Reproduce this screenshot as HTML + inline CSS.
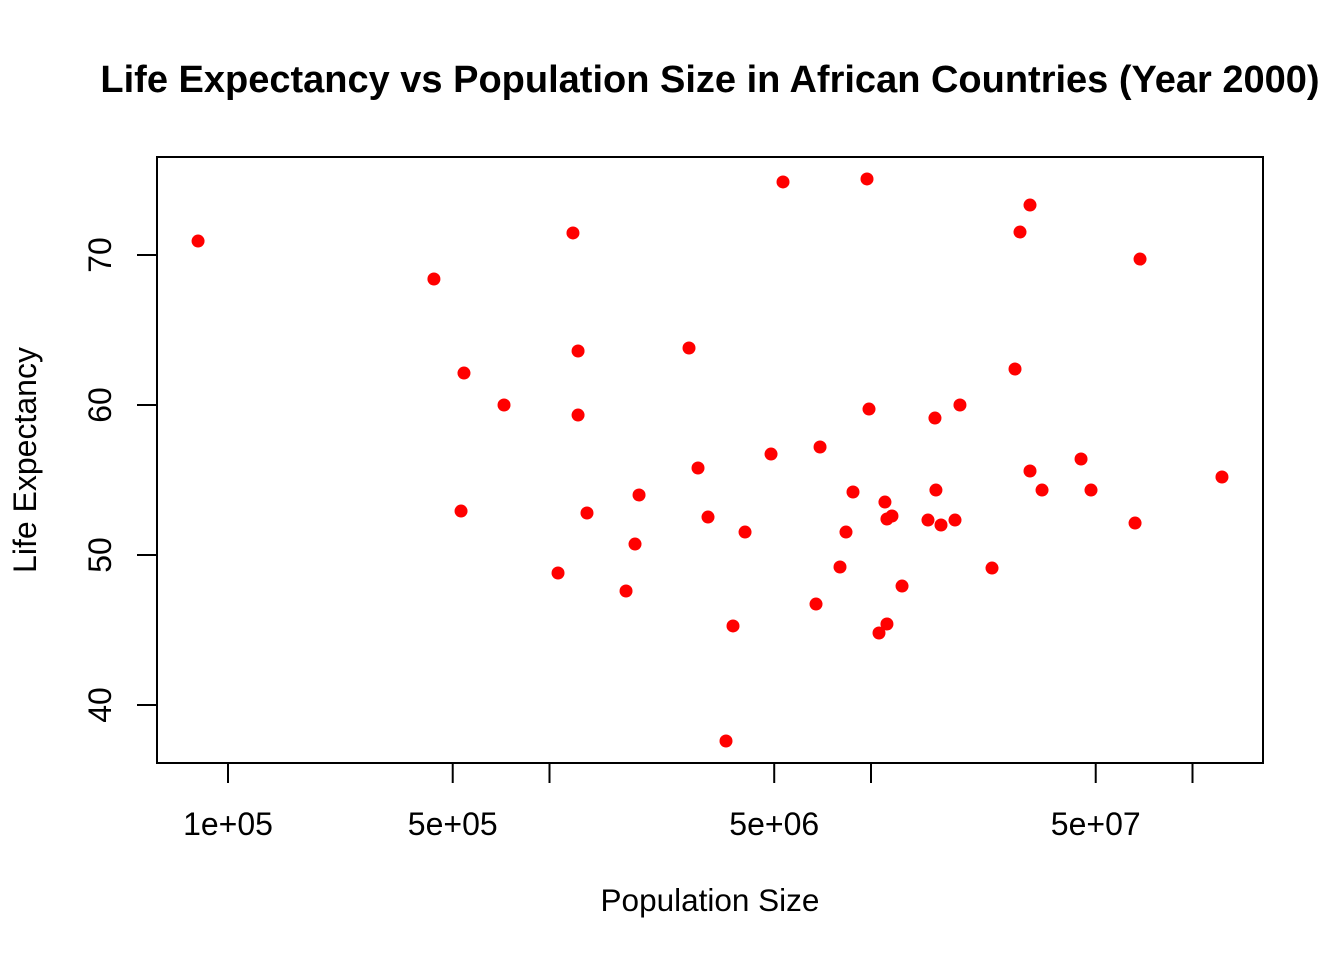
<!DOCTYPE html>
<html><head><meta charset="utf-8"><style>
body{margin:0;background:#fff}
svg{display:block;font-family:"Liberation Sans",Arial,sans-serif}
</style></head><body>
<svg id="chart" width="1344" height="960">
<text x="710" y="92" text-anchor="middle" font-size="38" font-weight="bold">Life Expectancy vs Population Size in African Countries (Year 2000)</text>
<rect x="157" y="157" width="1106" height="606" fill="none" stroke="#000" stroke-width="2"/>
<text x="710" y="911" text-anchor="middle" font-size="31.5">Population Size</text>
<text transform="translate(36,460) rotate(-90)" text-anchor="middle" font-size="32">Life Expectancy</text>
<g id="axes"></g><g id="points"></g>
</svg>
<script>
const population=[80700,437000,542000,530700,722000,1063000,1183000,1227000,1227000,1308000,1730000,1845000,1899000,2716000,2897000,3112000,3540000,3722000,4057000,4887000,5325000,6745000,6942000,8009000,8360000,8790000,9718000,9858000,10590000,11050000,11210000,11210000,11620000,12490000,15040000,15810000,15920000,16510000,18250000,18910000,23790000,28050000,29070000,31230000,31230000,34040000,45010000,48340000,66270000,68680000,123500000];
const lifeExp=[70.93,68.4,62.13,52.93,60,48.8,71.47,63.6,59.33,52.8,47.6,50.73,54,63.8,55.8,52.53,37.6,45.27,51.53,56.73,74.87,46.73,57.2,49.2,51.53,54.2,75.07,59.73,44.8,53.53,45.4,52.4,52.6,47.93,52.33,59.13,54.33,52,52.33,60,49.13,62.4,71.53,73.33,55.6,54.33,56.4,54.33,52.13,69.73,55.2];
const xTicks=[1e5,5e5,1e6,5e6,1e7,5e7,1e8];
const xTickLabels=["1e+05","5e+05","","5e+06","","5e+07",""];
const yTicks=[40,50,60,70];
const NS="http://www.w3.org/2000/svg";
function xs(p){return 228+(Math.log10(p)-5)*321.5;}
function ys(v){return 705-(v-40)*15;}
const axes=document.getElementById('axes');
function mk(tag,attrs,parent){const e=document.createElementNS(NS,tag);for(const k in attrs)e.setAttribute(k,attrs[k]);parent.appendChild(e);return e;}
mk('line',{x1:xs(xTicks[0]),x2:xs(xTicks[xTicks.length-1]),y1:763,y2:763,stroke:'#000','stroke-width':2},axes);
xTicks.forEach((t,i)=>{
  const l=mk('line',{x1:xs(t),x2:xs(t),y1:763,y2:783,stroke:'#000','stroke-width':2},axes);
  
  
  if(xTickLabels[i]){
    const tx=mk('text',{x:xs(t),y:835,'text-anchor':'middle','font-size':32},axes);
    tx.textContent=xTickLabels[i];
    
    
  }
});
yTicks.forEach(t=>{
  const l=mk('line',{x1:137,x2:157,y1:ys(t),y2:ys(t),stroke:'#000','stroke-width':2},axes);
  
  
  const tx=mk('text',{transform:`translate(111,${ys(t)}) rotate(-90)`,'text-anchor':'middle','font-size':32},axes);
  tx.textContent=t;
  
  
});
const pts=document.getElementById('points');
population.forEach((p,i)=>{
  const c=mk('circle',{cx:xs(p),cy:ys(lifeExp[i]),r:6.5,fill:'#ff0000'},pts);
  
  
});
</script>
</body></html>
